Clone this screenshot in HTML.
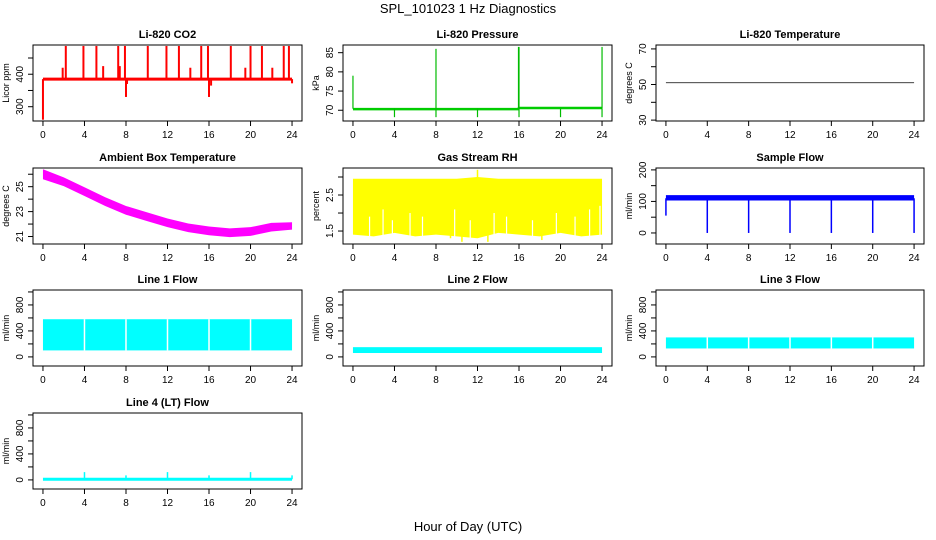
<!DOCTYPE html>
<html><head><meta charset="utf-8"><style>
body{margin:0;background:#fff}
svg{display:block;font-family:"Liberation Sans",sans-serif}
</style></head><body>
<svg id="c" width="936" height="540" viewBox="0 0 936 540" xmlns="http://www.w3.org/2000/svg">
<text x="468" y="13" text-anchor="middle" font-size="13">SPL_101023  1 Hz Diagnostics</text>
<text x="468" y="531" text-anchor="middle" font-size="13">Hour of Day (UTC)</text>
</svg>
<script>
// ---- data ----
const xTicks=[0,4,8,12,16,20,24];
const co2Base=[[0,385],[24,385]];
const co2Spikes=[[0,260],[2.2,487],[3.9,487],[5.15,487],[7.25,487],[7.9,487],[8,330],[10.1,487],[11.9,487],[13.1,487],[15.25,487],[15.9,487],[16,330],[18.1,487],[20,487],[21.1,487],[23.2,487],[23.7,487],[1.9,420],[5.8,425],[7.4,425],[14.2,420],[19.5,420],[22.1,420],[8.1,370],[16.2,365],[24,372]];
const presBase=[[0,70.3],[15.9,70.3],[16,70.6],[24,70.6]];
const presSpikes=[[0,79],[8,86],[16,86.5],[15.95,86.5],[24,86.5],[4,68.2],[8,68.2],[12,68.2],[16,68.2],[20,68.2],[24,68.2]];
const tempLine=[[0,51],[24,51]];
const ambHours=[0,2,4,6,8,10,12,14,16,18,20,22,24];
const ambCenter=[26.0,25.4,24.6,23.8,23.1,22.6,22.1,21.7,21.45,21.3,21.4,21.75,21.85];
const ambHalf=[0.4,0.35,0.35,0.35,0.35,0.35,0.35,0.35,0.35,0.35,0.35,0.35,0.3];
const rhHours=[0,2,4,6,8,10,12,14,16,18,20,22,24];
const rhLow=[1.4,1.35,1.45,1.35,1.4,1.35,1.3,1.45,1.4,1.35,1.45,1.35,1.4];
const rhHigh=[2.95,2.95,2.95,2.95,2.95,2.95,3.0,2.95,2.95,2.95,2.95,2.95,2.95];
const rhSpikes=[[12,3.2],[10.5,1.2],[13,1.2],[9.4,1.3],[18.2,1.25]];
const rhDips=[[1.6,1.9],[2.9,2.1],[3.8,1.8],[5.5,2.0],[6.7,1.9],[9.8,2.1],[11.3,1.8],[13.6,2.0],[14.8,1.9],[17.3,1.8],[19.6,2.0],[21.4,1.9],[22.8,2.1],[23.8,2.2]];
const sfBand=[[0,103,120],[24,103,120]];
const sfDips=[[0,55],[4,0],[8,0],[12,0],[16,0],[20,0],[24,0]];
const l1Band=[100,580];
const l2Band=[60,150];
const l3Band=[130,300];
const lineGaps=[4,8,12,16,20];
const l4Base=10;
const l4Spikes=[[4,120],[8,70],[12,120],[16,70],[20,120],[24,70]];

const svg=document.getElementById('c');
const NS='http://www.w3.org/2000/svg';
function mk(tag,attrs,parent){const e=document.createElementNS(NS,tag);for(const k in attrs)e.setAttribute(k,attrs[k]);(parent||svg).appendChild(e);return e;}
const cols=[[33,302],[343,612],[656,924]];
const rows=[45,168,290,413];
const H=76;
function panel(p){
  const [L,R]=cols[p.col];const T=rows[p.row];const B=T+H;
  const g=mk('g',{});
  
  
  const sx=h=>L+(h+0.96)/25.92*(R-L);
  const sy=v=>T+(p.ymax-v)/(p.ymax-p.ymin)*H;
  const t=mk('text',{x:(L+R)/2,y:T-7,'text-anchor':'middle','font-size':11,'font-weight':'bold'},g);t.textContent=p.title;
  
  const clip='cl'+p.name;const cp=mk('clipPath',{id:clip},g);mk('rect',{x:L,y:T,width:R-L,height:H},cp);
  const d=mk('g',{'clip-path':'url(#'+clip+')'},g);
  
  p.draw(d,sx,sy);
  const box=mk('rect',{x:L,y:T,width:R-L,height:H,fill:'none',stroke:'#000','stroke-width':1},g);
  
  xTicks.forEach(h=>{mk('line',{x1:sx(h),x2:sx(h),y1:B,y2:B+5,stroke:'#000'},g);
    const tx=mk('text',{x:sx(h),y:B+17,'text-anchor':'middle','font-size':10},g);tx.textContent=h;
    });
  p.ticks.forEach(v=>{mk('line',{x1:L-5,x2:L,y1:sy(v),y2:sy(v),stroke:'#000'},g);});
  p.labels.forEach(v=>{const ty=mk('text',{x:L-10,y:sy(v),'text-anchor':'middle','font-size':10,transform:`rotate(-90 ${L-10} ${sy(v)})`},g);ty.textContent=v;
    });
  const yl=mk('text',{x:L-24,y:(T+B)/2,'text-anchor':'middle','font-size':9,transform:`rotate(-90 ${L-24} ${(T+B)/2})`},g);yl.textContent=p.ylab;
  
}
function poly(d,pts,sx,sy,col,w,dash){const e=mk('polyline',{points:pts.map(q=>sx(q[0])+','+sy(q[1])).join(' '),fill:'none',stroke:col,'stroke-width':w||1},d);if(dash)e.setAttribute('stroke-dasharray',dash);return e;}
function spikes(d,arr,base,sx,sy,col,w){arr.forEach(s=>{mk('line',{x1:sx(s[0]),x2:sx(s[0]),y1:sy(base),y2:sy(s[1]),stroke:col,'stroke-width':w||1.5},d);});}
function band(d,hrs,lo,hi,sx,sy,col){const up=hrs.map((h,i)=>sx(h)+','+sy(hi[i]));const dn=hrs.map((h,i)=>sx(h)+','+sy(lo[i])).reverse();mk('polygon',{points:up.concat(dn).join(' '),fill:col},d);}
function flowPanel(name,title,col,row,b,gaps){
  panel({name,title,col,row,ymin:-140,ymax:1030,ticks:[0,200,400,600,800,1000],labels:[0,400,800],ylab:'ml/min',draw:(d,sx,sy)=>{
    mk('rect',{x:sx(0),y:sy(b[1]),width:sx(24)-sx(0),height:sy(b[0])-sy(b[1]),fill:'#00ffff'},d);
    if(gaps)gaps.forEach(h=>mk('line',{x1:sx(h),x2:sx(h),y1:sy(b[1]),y2:sy(b[0]),stroke:'#fff','stroke-width':1.5},d));
  }});
}
panel({name:'co2-panel',title:'Li-820 CO2',col:0,row:0,ymin:256,ymax:490,ticks:[300,350,400,450],labels:[300,400],ylab:'Licor ppm',draw:(d,sx,sy)=>{
  poly(d,co2Base,sx,sy,'#ff0000',3);spikes(d,co2Spikes,385,sx,sy,'#ff0000',2);}});
panel({name:'pressure-panel',title:'Li-820 Pressure',col:1,row:0,ymin:67.2,ymax:87,ticks:[70,75,80,85],labels:[70,75,80,85],ylab:'kPa',draw:(d,sx,sy)=>{
  poly(d,presBase,sx,sy,'#00cc00',2.5);spikes(d,presSpikes,70.4,sx,sy,'#00bb00',1.2);}});
panel({name:'temperature-panel',title:'Li-820 Temperature',col:2,row:0,ymin:29.5,ymax:72.2,ticks:[30,40,50,60,70],labels:[30,50,70],ylab:'degrees C',draw:(d,sx,sy)=>{
  poly(d,tempLine,sx,sy,'#000',0.8);}});
panel({name:'ambient-panel',title:'Ambient Box Temperature',col:0,row:1,ymin:20.4,ymax:26.5,ticks:[21,22,23,24,25,26],labels:[21,23,25],ylab:'degrees C',draw:(d,sx,sy)=>{
  band(d,ambHours,ambCenter.map((c,i)=>c-ambHalf[i]),ambCenter.map((c,i)=>c+ambHalf[i]),sx,sy,'#ff00ff');}});
panel({name:'rh-panel',title:'Gas Stream RH',col:1,row:1,ymin:1.14,ymax:3.25,ticks:[1.5,2,2.5,3],labels:[1.5,2.5],ylab:'percent',draw:(d,sx,sy)=>{
  band(d,rhHours,rhLow,rhHigh,sx,sy,'#ffff00');spikes(d,rhSpikes,2.5,sx,sy,'#ffff00',1.5);
  rhDips.forEach(q=>mk('line',{x1:sx(q[0]),x2:sx(q[0]),y1:sy(1.1),y2:sy(q[1]),stroke:'#fff','stroke-width':1.2},d));}});
panel({name:'sample-flow-panel',title:'Sample Flow',col:2,row:1,ymin:-35,ymax:206,ticks:[0,50,100,150,200],labels:[0,100,200],ylab:'ml/min',draw:(d,sx,sy)=>{
  band(d,sfBand.map(q=>q[0]),sfBand.map(q=>q[1]),sfBand.map(q=>q[2]),sx,sy,'#0000ff');spikes(d,sfDips,110,sx,sy,'#0000ff',1.5);}});
flowPanel('line1-flow-panel','Line 1 Flow',0,2,l1Band,lineGaps);
flowPanel('line2-flow-panel','Line 2 Flow',1,2,l2Band,null);
flowPanel('line3-flow-panel','Line 3 Flow',2,2,l3Band,lineGaps);
panel({name:'line4-flow-panel',title:'Line 4 (LT) Flow',col:0,row:3,ymin:-140,ymax:1030,ticks:[0,200,400,600,800,1000],labels:[0,400,800],ylab:'ml/min',draw:(d,sx,sy)=>{
  poly(d,[[0,l4Base],[24,l4Base]],sx,sy,'#00ffff',3);spikes(d,l4Spikes,l4Base,sx,sy,'#00ffff',1.5);}});
</script>
</body></html>
